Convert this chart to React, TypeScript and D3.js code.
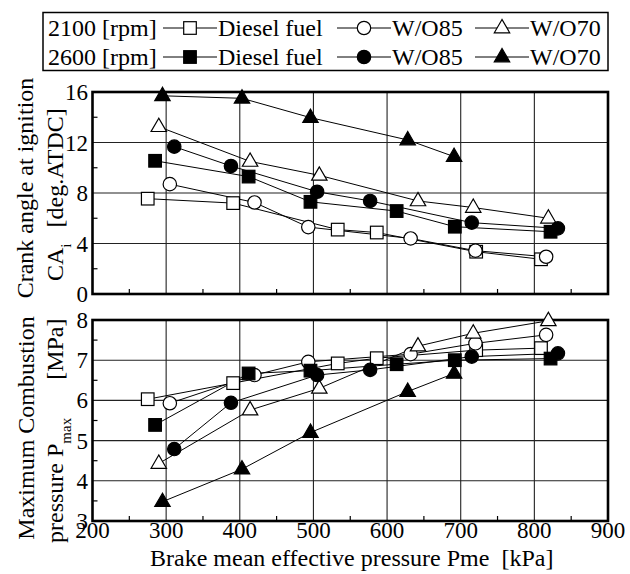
import React from "react";
import * as d3 from "d3";

// Brake mean effective pressure [kPa] for each series
const pmeDiesel2100 = [275, 391, 533, 586, 721, 809];
const pmeWO85_2100 = [305, 420, 493, 632, 720, 816];
const pmeWO70_2100 = [290, 414, 508, 642, 717, 819];
const pmeDiesel2600 = [285, 412, 496, 613, 692, 822];
const pmeWO85_2600 = [311, 388, 505, 577, 715, 832];
const pmeWO70_2600 = [295, 403, 496, 628, 691];

// Crank angle at ignition [deg.ATDC]
const caDiesel2100 = [7.55, 7.2, 5.1, 4.87, 3.35, 2.75];
const caWO85_2100 = [8.7, 7.25, 5.3, 4.4, 3.43, 2.95];
const caWO70_2100 = [13.25, 10.5, 9.4, 7.37, 6.85, 6.0];
const caDiesel2600 = [10.55, 9.3, 7.3, 6.57, 5.33, 4.93];
const caWO85_2600 = [11.67, 10.14, 8.1, 7.37, 5.65, 5.2];
const caWO70_2600 = [15.7, 15.5, 13.97, 12.2, 10.88];

// Maximum combustion pressure [MPa]
const pmaxDiesel2100 = [6.03, 6.43, 6.92, 7.05, 7.25, 7.3];
const pmaxWO85_2100 = [5.93, 6.63, 6.96, 7.15, 7.42, 7.63];
const pmaxWO70_2100 = [4.43, 5.76, 6.3, 7.35, 7.67, 7.98];
const pmaxDiesel2600 = [5.39, 6.67, 6.74, 6.9, 7.0, 7.04];
const pmaxWO85_2600 = [4.79, 5.94, 6.63, 6.76, 7.09, 7.17];
const pmaxWO70_2600 = [3.48, 4.29, 5.2, 6.22, 6.67];

const xTicks = [200, 300, 400, 500, 600, 700, 800, 900];
const caTicks = [0, 4, 8, 12, 16];
const pmaxTicks = [3, 4, 5, 6, 7, 8];

type Shape = "square" | "circle" | "triangle";

const series = [
  { x: pmeDiesel2100, ca: caDiesel2100, pmax: pmaxDiesel2100, shape: "square" as Shape, filled: false },
  { x: pmeWO85_2100, ca: caWO85_2100, pmax: pmaxWO85_2100, shape: "circle" as Shape, filled: false },
  { x: pmeWO70_2100, ca: caWO70_2100, pmax: pmaxWO70_2100, shape: "triangle" as Shape, filled: false },
  { x: pmeDiesel2600, ca: caDiesel2600, pmax: pmaxDiesel2600, shape: "square" as Shape, filled: true },
  { x: pmeWO85_2600, ca: caWO85_2600, pmax: pmaxWO85_2600, shape: "circle" as Shape, filled: true },
  { x: pmeWO70_2600, ca: caWO70_2600, pmax: pmaxWO70_2600, shape: "triangle" as Shape, filled: true },
];

const font = "'Liberation Serif', 'Times New Roman', serif";

const x = d3.scaleLinear().domain([200, 900]).range([92.5, 608]);
const yCa = d3.scaleLinear().domain([0, 16]).range([294, 92]);
const yPmax = d3.scaleLinear().domain([3, 8]).range([521, 320]);

function Marker({ shape, filled, cx, cy }: { shape: Shape; filled: boolean; cx: number; cy: number }) {
  const fill = filled ? "#000" : "#fff";
  const common = { fill, stroke: "#000", strokeWidth: 1.2 };
  if (shape === "square") return <rect x={cx - 6.3} y={cy - 6.3} width={12.6} height={12.6} {...common} />;
  if (shape === "circle") return <circle cx={cx} cy={cy} r={6.7} {...common} />;
  return <path d={`M${cx},${cy - 8.5}L${cx - 7.7},${cy + 4.8}L${cx + 7.7},${cy + 4.8}Z`} {...common} />;
}

function Panel({ y, ticks, field, minorStep }: { y: d3.ScaleLinear<number, number>; ticks: number[]; field: "ca" | "pmax"; minorStep: number }) {
  const [y0, y1] = y.domain();
  const [r0, r1] = y.range();
  const [xl, xr] = x.range();
  const line = d3
    .line<[number, number]>()
    .x((d) => x(d[0]))
    .y((d) => y(d[1]));
  const minorY = d3.range(y0 + minorStep / 2, y1, minorStep);
  const minorX = d3.range(250, 900, 100);
  return (
    <g>
      {xTicks.slice(1, -1).map((t) => (
        <line key={"gx" + t} x1={x(t)} x2={x(t)} y1={r0} y2={r1} stroke="#222" strokeWidth={1.1} />
      ))}
      {ticks.slice(1, -1).map((t) => (
        <line key={"gy" + t} x1={xl} x2={xr} y1={y(t)} y2={y(t)} stroke="#222" strokeWidth={1.1} />
      ))}
      {minorX.map((t) => (
        <line key={"mx" + t} x1={x(t)} x2={x(t)} y1={r0} y2={r0 - 5} stroke="#000" strokeWidth={1.2} />
      ))}
      {minorY.map((t) => (
        <line key={"my" + t} x1={xl} x2={xl + 5} y1={y(t)} y2={y(t)} stroke="#000" strokeWidth={1.2} />
      ))}
      <rect x={xl} y={r1} width={xr - xl} height={r0 - r1} fill="none" stroke="#000" strokeWidth={2.6} />
      {ticks.map((t) => (
        <text key={"ty" + t} x={88} y={y(t)} dy="0.35em" textAnchor="end" fontSize={23} fontFamily={font}>
          {t}
        </text>
      ))}
      {series.map((s, i) => (
        <path key={"l" + i} d={line(s.x.map((v, j) => [v, s[field][j]] as [number, number])) || ""} fill="none" stroke="#000" strokeWidth={1} />
      ))}
      {series.map((s, i) =>
        s.x.map((v, j) => <Marker key={"m" + i + "-" + j} shape={s.shape} filled={s.filled} cx={x(v)} cy={y(s[field][j])} />)
      )}
    </g>
  );
}

function LegendItem({ cx, shape, filled, y }: { cx: number; shape: Shape; filled: boolean; y: number }) {
  return (
    <g>
      <line x1={cx - 27} x2={cx + 27} y1={y} y2={y} stroke="#000" strokeWidth={1} />
      <Marker shape={shape} filled={filled} cx={cx} cy={y} />
    </g>
  );
}

export default function App() {
  const rows = [
    { label: "2100 [rpm]", filled: false, base: 36 },
    { label: "2600 [rpm]", filled: true, base: 65 },
  ];
  return (
    <svg width={630} height={574} style={{ position: "absolute", left: 0, top: 0, background: "#fff" }}>
      <rect x={43} y={12.5} width={565} height={58} fill="#fff" stroke="#000" strokeWidth={1.5} />
      {rows.map((r) => (
        <g key={r.label} fontFamily={font} fontSize={24}>
          <text x={48} y={r.base}>{r.label}</text>
          <LegendItem cx={190} y={r.base - 8} shape="square" filled={r.filled} />
          <text x={218} y={r.base}>Diesel fuel</text>
          <LegendItem cx={364} y={r.base - 8} shape="circle" filled={r.filled} />
          <text x={392} y={r.base}>W/O85</text>
          <LegendItem cx={502} y={r.base - 8} shape="triangle" filled={r.filled} />
          <text x={530} y={r.base}>W/O70</text>
        </g>
      ))}

      <Panel y={yCa} ticks={caTicks} field="ca" minorStep={4} />
      <Panel y={yPmax} ticks={pmaxTicks} field="pmax" minorStep={1} />

      {xTicks.map((t) => (
        <text key={"tx" + t} x={x(t)} y={538} textAnchor="middle" fontSize={23} fontFamily={font}>
          {t}
        </text>
      ))}
      <text x={150} y={566} fontSize={24} fontFamily={font}>
        Brake mean effective pressure Pme{"\u00a0\u00a0"}[kPa]
      </text>

      <g fontFamily={font} fontSize={24}>
        <text transform="translate(33,188) rotate(-90)" textAnchor="middle">
          Crank angle at ignition
        </text>
        <text transform="translate(63,281) rotate(-90)">
          CA
          <tspan fontSize={15} dy={8}>i</tspan>
          <tspan dy={-8} dx={16}>[deg.ATDC]</tspan>
        </text>
        <text transform="translate(34,428) rotate(-90)" textAnchor="middle">
          Maximum Combustion
        </text>
        <text transform="translate(63,543) rotate(-90)">
          pressure P
          <tspan fontSize={15} dy={8}>max</tspan>
          <tspan dy={-8} dx={38}>[MPa]</tspan>
        </text>
      </g>
    </svg>
  );
}
